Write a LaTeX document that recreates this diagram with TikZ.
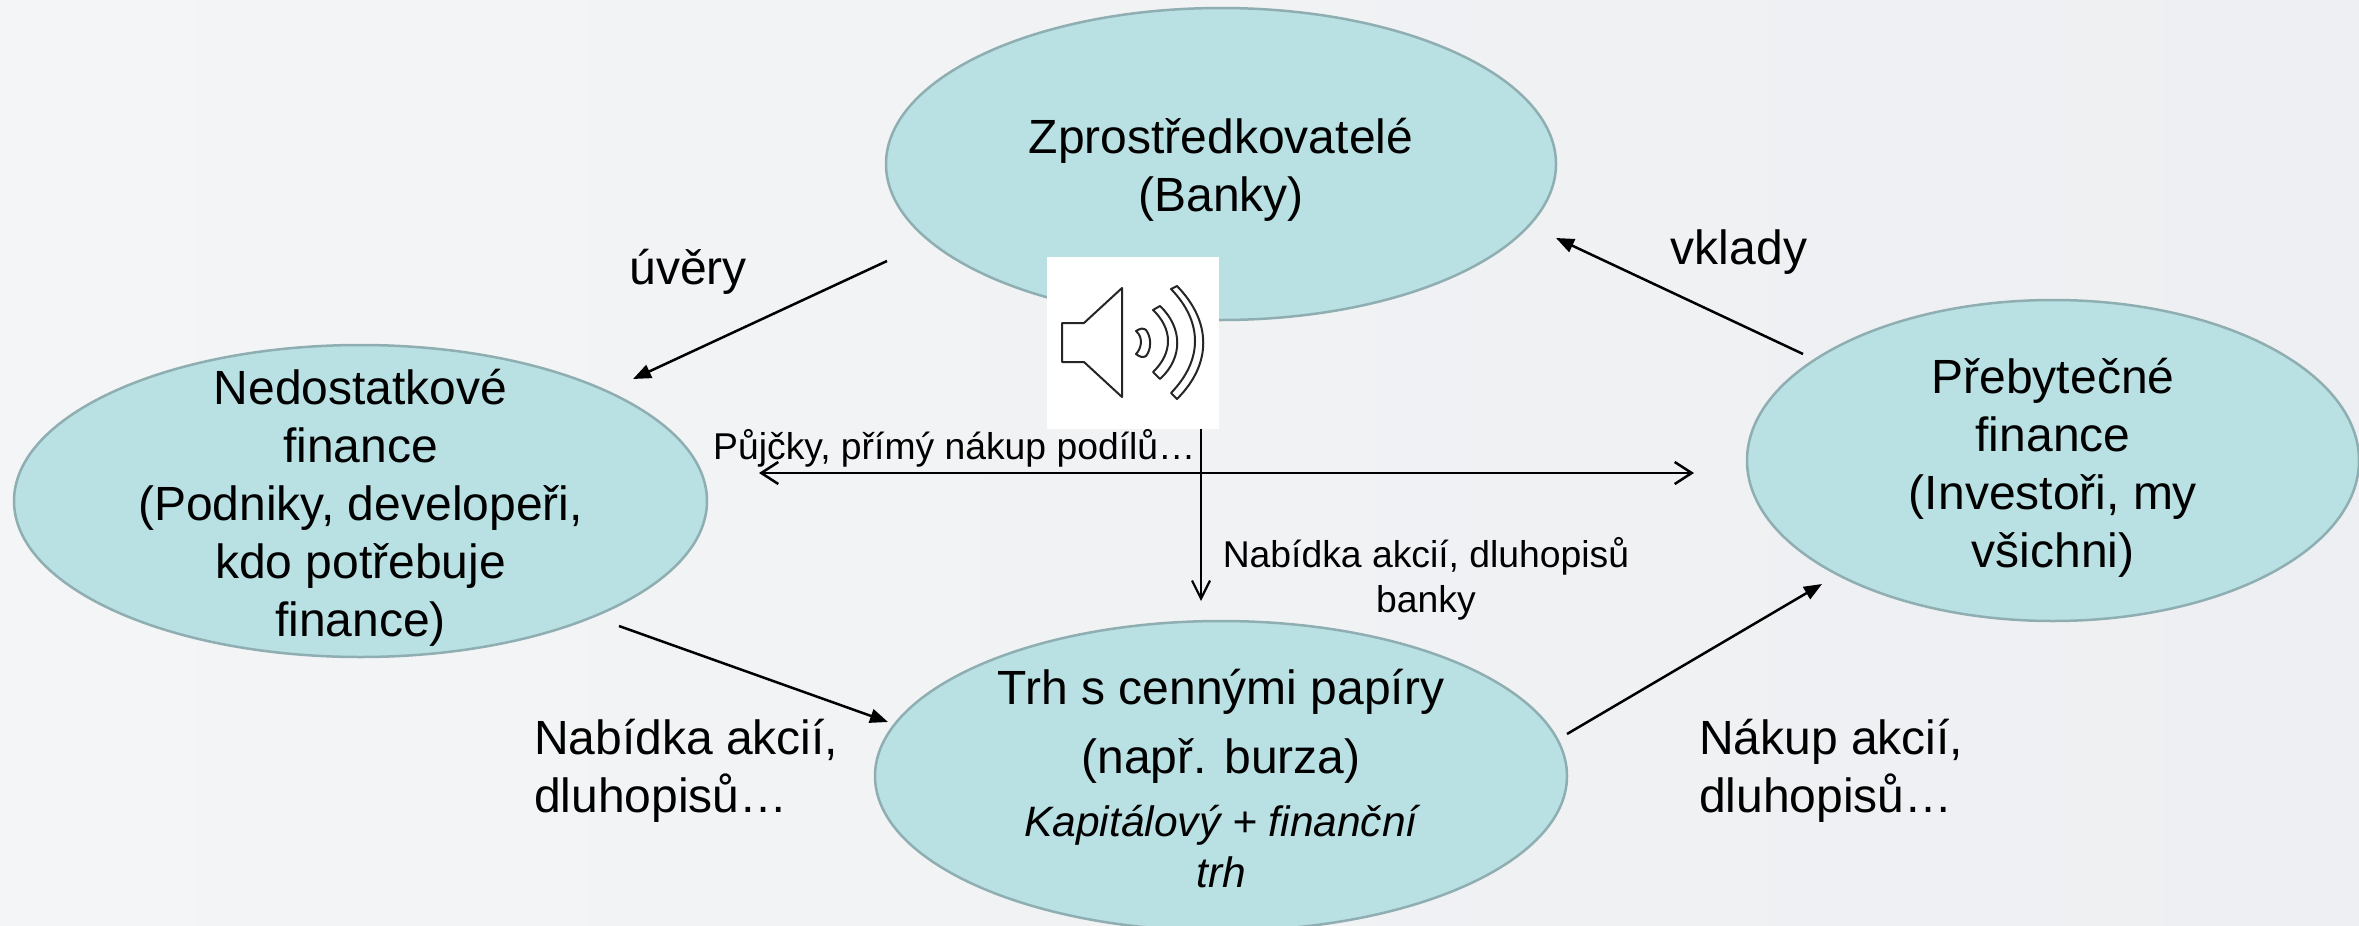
\documentclass[tikz,border=0pt]{standalone}
\usepackage{fontspec}
\setmainfont{Liberation Sans}
\usetikzlibrary{shapes.geometric,arrows.meta}
\newcommand\ovaltext[2]{\raisebox{#1}[0pt][0pt]{\begin{tabular}{@{}c@{}}#2\end{tabular}}}
\tikzset{
  x=1pt,y=-1pt,
  oval/.style={ellipse,draw=ovaledge,fill=ovalfill,line width=2.5pt,inner sep=0pt,align=center,font=\fontsize{48}{58}\selectfont},
  biglabel/.style={align=left,inner sep=0pt,font=\fontsize{48}{58}\selectfont},
  smalllabel/.style={align=center,inner sep=0pt,font=\fontsize{37.3}{45}\selectfont},
  solidarrow/.style={line width=2.5pt,-{Triangle[length=18pt,width=14pt]}},
  openarrow/.style={line width=2.5pt,{Straight Barb[length=17pt,width=22pt,line width=2.5pt]}-{Straight Barb[length=17pt,width=22pt,line width=2.5pt]}},
  downarrow/.style={line width=2.2pt,-{Straight Barb[length=18pt,width=18pt,line width=2.2pt]}},
  speakerline/.style={draw=black!85,line width=2pt,fill=white,line join=round}
}
\definecolor{ovalfill}{HTML}{B9E0E3}
\definecolor{ovaledge}{HTML}{8FAEB1}
\definecolor{bgA}{HTML}{F4F5F6}
\definecolor{bgB}{HTML}{EEEFF2}
\begin{document}
\begin{tikzpicture}
\path[use as bounding box,left color=bgA,right color=bgB] (0,0) rectangle (2359,926);
\clip (0,0) rectangle (2359,926);
\node[oval,minimum width=670pt,minimum height=312pt] (banks) at (1221,164) {\ovaltext{-13pt}{Zprostředkovatelé\\(Banky)}};
\node[oval,minimum width=693pt,minimum height=312pt] (deficit) at (360.5,501) {\ovaltext{-14pt}{Nedostatkové\\finance\\(Podniky, developeři,\\kdo potřebuje\\finance)}};
\node[oval,minimum width=612pt,minimum height=321pt] (surplus) at (2053,460.5) {\ovaltext{-15pt}{Přebytečné\\finance\\(Investoři, my\\všichni)}};
\node[oval,minimum width=692pt,minimum height=310pt] (market) at (1221,776) {\def\arraystretch{0.88}\ovaltext{-16pt}{Trh s cennými papíry\\[18pt](např. burza)\\[12pt]\fontsize{42.5}{51}\selectfont\itshape Kapitálový + finanční\\\fontsize{42.5}{51}\selectfont\itshape trh}};
% speaker icon
\node[fill=white,minimum width=172pt,minimum height=172pt,inner sep=0pt] (speaker) at (1133,343) {};
\draw[speakerline] (1062,323) -- (1084,323) -- (1122,288) -- (1122,397) -- (1084,362) -- (1062,362) -- cycle;
\draw[speakerline] (1136,331) .. controls (1141,328) and (1143,328) .. (1146,330) .. controls (1152,338) and (1151,350) .. (1146,356) .. controls (1143,358) and (1140,357) .. (1136,354) .. controls (1141,349) and (1144,338) .. (1136,331) -- cycle;
\draw[speakerline] (1153,310) -- (1160,306) .. controls (1183,328) and (1183,358) .. (1160,379) -- (1153,372) .. controls (1173,353) and (1173,329) .. (1153,310) -- cycle;
\draw[speakerline] (1171,289) -- (1177,286) .. controls (1212,322) and (1212,364) .. (1177,399) -- (1171,393) .. controls (1203,360) and (1203,322) .. (1171,289) -- cycle;
% coordinates
\coordinate (loanstart) at (887,261);
\coordinate (loanend) at (633,379);
\coordinate (depstart) at (1803,354);
\coordinate (depend) at (1556,238);
\coordinate (offerstart) at (619,626);
\coordinate (offerend) at (888,722);
\coordinate (buystart) at (1567,734);
\coordinate (buyend) at (1822,584);
\coordinate (directl) at (759,473);
\coordinate (directr) at (1694,473);
\coordinate (bankdown) at (1201,429);
\coordinate (bankend) at (1201,601);
\draw[solidarrow] (loanstart) -- (loanend);
\draw[solidarrow] (depstart) -- (depend);
\draw[solidarrow] (offerstart) -- (offerend);
\draw[solidarrow] (buystart) -- (buyend);
\draw[openarrow] (directl) -- (directr);
\draw[downarrow] (bankdown) -- (bankend);
% labels
\node[biglabel] (lblloans) at (688,272) {úvěry};
\node[biglabel] (lbldep) at (1739,252) {vklady};
\node[biglabel,anchor=west] (lbloffer) at (534,771) {Nabídka akcií,\\dluhopisů…};
\node[biglabel,anchor=west] (lblbuy) at (1699,771) {Nákup akcií,\\dluhopisů…};
\node[smalllabel,anchor=west] (lbldirect) at (713,448) {Půjčky, přímý nákup podílů…};
\node[smalllabel] (lblbank) at (1426,579) {Nabídka akcií, dluhopisů\\banky};
\end{tikzpicture}
\end{document}
